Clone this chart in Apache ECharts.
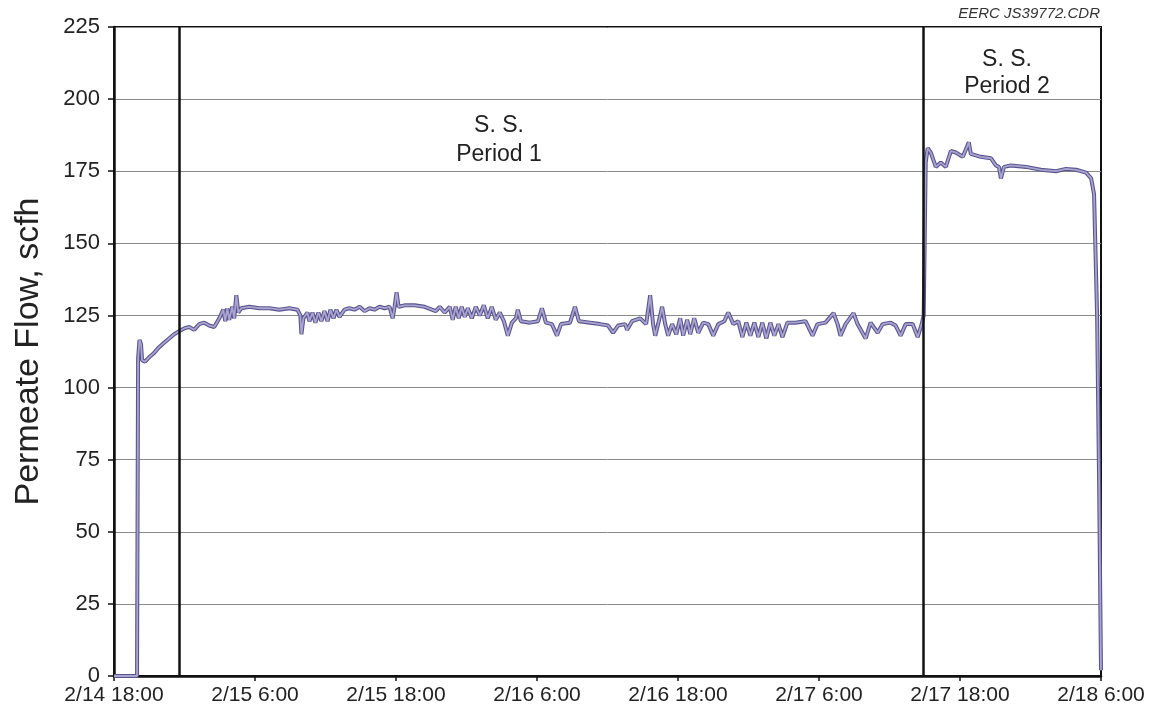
<!DOCTYPE html>
<html>
<head>
<meta charset="utf-8">
<script src="https://cdn.jsdelivr.net/npm/echarts@6/dist/echarts.min.js"></script>
<style>
html,body{margin:0;padding:0;background:#fff;}
#chart{width:1158px;height:717px;}
</style>
</head>
<body>
<div id="chart"></div>
<script>
// Hours elapsed since 2/14 18:00
var hours = [0,1.96,2.05,2.17,2.30,2.39,2.64,2.99,3.41,3.84,4.26,4.69,5.12,5.54,5.97,6.40,6.82,7.25,7.68,8.10,8.53,8.96,9.30,9.47,9.64,9.81,10.06,10.23,10.41,10.58,10.83,11.51,12.37,13.22,14.07,14.93,15.61,15.86,15.95,16.12,16.46,16.63,16.89,17.14,17.40,17.65,17.91,18.17,18.42,18.68,18.93,19.19,19.62,20.04,20.47,20.90,21.32,21.75,22.17,22.60,23.03,23.45,23.71,23.88,24.05,24.22,24.73,25.59,26.44,27.04,27.38,27.72,28.14,28.57,28.83,29.08,29.34,29.59,29.85,30.11,30.45,30.79,31.13,31.47,31.81,32.15,32.49,32.84,33.18,33.52,33.86,34.20,34.37,34.63,35.39,36.08,36.42,36.76,37.27,37.70,38.04,38.81,39.23,39.57,40.51,41.36,42.05,42.47,42.90,43.50,43.67,44.09,44.78,45.29,45.63,45.88,46.06,46.31,46.65,46.91,47.16,47.50,47.85,48.19,48.44,48.78,49.04,49.38,49.72,50.15,50.58,51.00,51.43,51.94,52.28,52.71,53.13,53.48,53.82,54.16,54.50,54.84,55.18,55.52,55.86,56.20,56.55,56.89,57.31,57.99,58.85,59.45,59.87,60.55,61.24,61.58,61.83,62.26,62.94,63.28,63.97,64.39,64.99,65.42,66.10,66.52,66.95,67.38,67.97,68.40,68.74,68.91,69.08,69.25,69.51,69.94,70.36,70.79,71.22,71.64,72.24,72.75,72.92,73.77,74.63,75.05,75.31,75.48,75.74,76.33,77.61,78.89,80.17,81.02,81.88,82.73,83.16,83.41,83.67,83.84,83.98,84.0];
// Permeate flow, scfh
var flow = [0,0,110,116.5,115,109.5,109,110.5,112,114,115.5,117,118.5,119.5,120.5,121,120,122,122.5,121.5,121,124,127,123,127.5,123.5,128,124,132,126,127.5,128,127.5,127.5,127,127.5,127,125,118.5,124,126,123,126,122.5,126,123,126.5,123,127,124,127,124.5,127,127.5,127,128,126.5,127.5,127,128,127.5,128,124,128,133,128,128.5,128.5,128,127,126.5,128,126,128,123.5,128,124,128,124.5,127.5,124,128,125,128.5,124,128,123.5,126,123,118,122.5,124,127,123,122.5,123,127.5,122.5,122,118,122,122.5,128,123,122.5,122,121.5,119,121.5,122,120,123,124,122,132,122,118,122,128,122,118,122,118.5,124,118,123.5,118.5,124,119,122.5,122,118,122,123,126,122,123,117.5,122.5,118,122.5,117.5,122.5,117,122.5,118,122,117.5,122.5,122.5,123,118,122,122.5,125.8,122,118,122,125.8,122,117,122.5,119,122,122.5,121.5,118,122,122,117.5,122,125,178,183,181.5,176.5,178,176.5,182,181.5,180,185,181,180,179.5,177,176.5,172.5,176.5,177,176.5,175.5,175,175.8,175.5,174.5,172.5,167,124.5,67,10,2];
// Steady-state period boundaries (hours since 2/14 18:00)
var periodLines = [5.54, 68.91];
var yTicks = {min: 0, max: 225, interval: 25};
var xTicks = {min: 0, max: 84, interval: 12};

var pts = hours.map(function(h, i){ return [h, flow[i]]; });

function fmtHour(h){
  var d = new Date(2009, 1, 14, 18, 0, 0);
  d = new Date(d.getTime() + h * 3600000);
  var mm = d.getMinutes();
  return (d.getMonth()+1) + '/' + d.getDate() + ' ' + d.getHours() + ':' + (mm < 10 ? '0' + mm : mm);
}

var chart = echarts.init(document.getElementById('chart'));
var font = 'Liberation Sans, Arial, sans-serif';
chart.setOption({
  animation: false,
  backgroundColor: '#fff',
  grid: {left: 114, right: 57, top: 27, bottom: 41, show: true, borderColor: '#111', borderWidth: 2, backgroundColor: 'transparent'},
  xAxis: {
    type: 'value', min: xTicks.min, max: xTicks.max, interval: xTicks.interval,
    axisLine: {show: true, lineStyle: {color: '#111', width: 2.5}},
    axisTick: {show: true, length: 5, lineStyle: {color: '#111', width: 1.5}},
    splitLine: {show: false},
    axisLabel: {formatter: fmtHour, color: '#222', fontSize: 21, fontFamily: font, margin: 9}
  },
  yAxis: {
    type: 'value', min: yTicks.min, max: yTicks.max, interval: yTicks.interval,
    name: 'Permeate Flow, scfh', nameLocation: 'middle', nameGap: 68,
    nameTextStyle: {color: '#222', fontSize: 34, fontFamily: font},
    axisLine: {show: true, lineStyle: {color: '#111', width: 2.5}},
    axisTick: {show: true, length: 6, lineStyle: {color: '#111', width: 1.5}},
    splitLine: {show: true, lineStyle: {color: '#8a8a8a', width: 1}},
    axisLabel: {color: '#222', fontSize: 22, fontFamily: font, margin: 14}
  },
  series: [
    {
      type: 'line', data: pts, symbol: 'none', z: 2,
      lineStyle: {color: '#5a548e', width: 4},
      markLine: {
        silent: true, symbol: 'none', label: {show: false},
        lineStyle: {color: '#111', width: 2.5, type: 'solid'},
        data: periodLines.map(function(v){ return {xAxis: v}; })
      }
    },
    {
      type: 'line', data: pts, symbol: 'none', z: 3,
      lineStyle: {color: '#aaa5d0', width: 1.8}
    }
  ],
  graphic: [
    {type: 'text', x: 499, y: 140, style: {text: 'S. S.\nPeriod 1', fill: '#222', font: '23px ' + font, textAlign: 'center', textVerticalAlign: 'middle', lineHeight: 29}},
    {type: 'text', x: 1007, y: 73, style: {text: 'S. S.\nPeriod 2', fill: '#222', font: '23px ' + font, textAlign: 'center', textVerticalAlign: 'middle', lineHeight: 27}},
    {type: 'text', x: 1100, y: 14, style: {text: 'EERC JS39772.CDR', fill: '#333', font: 'italic 15px ' + font, textAlign: 'right', textVerticalAlign: 'middle'}}
  ]
});
</script>
</body>
</html>
